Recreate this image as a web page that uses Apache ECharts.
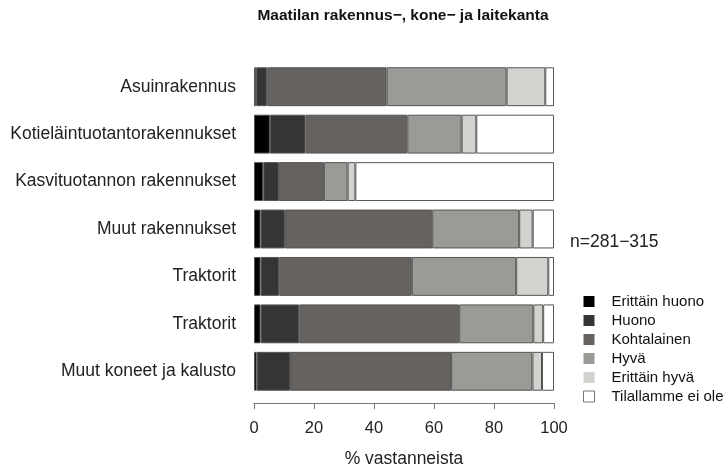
<!DOCTYPE html>
<html>
<head>
<meta charset="utf-8">
<script src="https://cdn.jsdelivr.net/npm/echarts@6/dist/echarts.min.js"></script>
<style>
  html, body { margin: 0; padding: 0; background: #fff; }
  #chart { width: 727px; height: 467px; }
</style>
</head>
<body>
<div id="chart"></div>
<script>
// categories, top to bottom
const categories = ['Asuinrakennus', 'Kotieläintuotantorakennukset', 'Kasvituotannon rakennukset',
  'Muut rakennukset', 'Traktorit', 'Traktorit', 'Muut koneet ja kalusto']
const levels = ['Erittäin huono', 'Huono', 'Kohtalainen', 'Hyvä', 'Erittäin hyvä', 'Tilallamme ei ole']
const colors = ['#000000', '#353535', '#65625f', '#9c9a96', '#d4d2ce', '#ffffff']

// % of respondents per level
const erittainHuono = [0.7, 5.3, 3.1, 2.2, 2.2, 2.2, 0.9]
const huono = [3.7, 11.9, 5.2, 8.1, 6.2, 12.9, 11.1]
const kohtalainen = [39.8, 33.9, 15.0, 49.1, 44.2, 53.3, 53.7]
const hyva = [40.0, 18.1, 7.9, 29.0, 34.8, 24.7, 27.1]
const erittainHyva = [12.9, 4.9, 2.6, 4.5, 10.7, 3.3, 3.2]
const eiOle = [2.9, 25.9, 66.2, 7.1, 1.9, 3.6, 4.0]
const xTicks = [0, 20, 40, 60, 80, 100]

const seriesData = [erittainHuono, huono, kohtalainen, hyva, erittainHyva, eiOle]
const font = 'Liberation Sans, Arial, sans-serif'

let chart = echarts.init(document.getElementById('chart'), null, { renderer: 'canvas' })
let option = {
  animation: false,
  title: {
    text: 'Maatilan rakennus\u2212, kone\u2212 ja laitekanta',
    left: 398,
    top: 3,
    textAlign: 'center',
    textStyle: { fontFamily: font, fontSize: 15.5, fontWeight: 'bold', color: '#111' }
  },
  grid: { left: 254, right: 173, top: 63, bottom: 72, containLabel: false, outerBoundsMode: 'none' },
  legend: {
    orient: 'vertical',
    left: 578,
    top: 289,
    itemWidth: 11,
    itemHeight: 11,
    itemGap: 4,
    icon: 'rect',
    data: levels.map((name, i) => ({
      name: name,
      itemStyle: i === 5 ? { borderColor: '#777', borderWidth: 1 } : { borderWidth: 0 }
    })),
    textStyle: { fontFamily: font, fontSize: 15, color: '#111', padding: [0, 0, 0, 12] }
  },
  xAxis: {
    type: 'value',
    min: 0,
    max: 100,
    interval: 20,
    offset: 8,
    name: '% vastanneista',
    nameLocation: 'middle',
    nameGap: 47,
    nameTextStyle: { fontFamily: font, fontSize: 17.5, color: '#222' },
    splitLine: { show: false },
    axisLine: { show: true, lineStyle: { color: '#777', width: 1 } },
    axisTick: { show: true, length: 6, lineStyle: { color: '#777' } },
    axisLabel: {
      margin: 17, fontFamily: font, fontSize: 16.5, color: '#222',
      formatter: v => xTicks.includes(v) ? String(v) : ''
    }
  },
  yAxis: {
    type: 'category',
    inverse: true,
    data: categories,
    axisLine: { show: false },
    axisTick: { show: false },
    axisLabel: { margin: 18, fontFamily: font, fontSize: 17.5, color: '#222', padding: [6, 0, 0, 0] }
  },
  graphic: [{
    type: 'text',
    left: 570,
    top: 233,
    style: { text: 'n=281\u2212315', font: '17.5px ' + font, fill: '#222' }
  }],
  series: levels.map((name, i) => ({
    name: name,
    type: 'bar',
    stack: 'total',
    barCategoryGap: '18%',
    data: seriesData[i],
    itemStyle: { color: colors[i], borderColor: '#555', borderWidth: 1 }
  }))
}
chart.setOption(option)
</script>
</body>
</html>
